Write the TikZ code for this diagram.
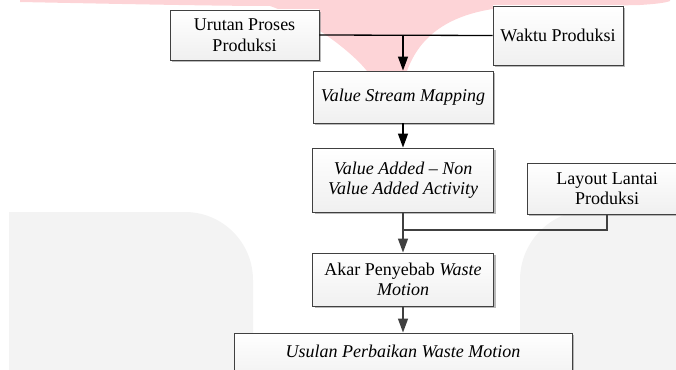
\documentclass[tikz,border=0pt]{standalone}
\usepackage{fontspec}
\setmainfont{Liberation Serif}
\usetikzlibrary{arrows.meta,shadows}
\definecolor{wmpink}{RGB}{253,212,215}
\definecolor{wmgray}{RGB}{243,243,243}
\definecolor{edge}{RGB}{64,64,64}
\begin{document}
\begin{tikzpicture}[x=1pt,y=-1pt,
  font=\fontsize{18pt}{20.5pt}\selectfont,
  box/.style={draw=edge, line width=0.9pt, top color=white, bottom color=black!6,
    drop shadow={shadow xshift=2pt, shadow yshift=-2pt, fill=black!45, opacity=0.6},
    align=center, inner sep=0pt, anchor=center},
  conn/.style={line width=1.3pt, draw=edge},
  connk/.style={line width=1.3pt, draw=black},
  tip/.style={-{Triangle[length=14pt,width=10pt]}}
]
\useasboundingbox (0,0) rectangle (676,369);
% watermark
\fill[wmgray] (9,380) -- (9,212) [rounded corners=68pt] -- (253,212) [sharp corners] -- (253,380) -- cycle;
\fill[wmgray] (690,380) -- (690,210) [rounded corners=70pt] -- (520,210) [sharp corners] -- (520,380) -- cycle;
\fill[wmpink] (20,0) -- (20,2) .. controls (120,4) and (220,6) .. (270,6)
  .. controls (310,20) and (350,50) .. (367,71) -- (407,71)
  .. controls (420,35) and (450,14) .. (500,8) -- (640,5)
  .. controls (655,4) and (665,3) .. (670,1) -- (670,0) -- cycle;
% boxes
\node[box, minimum width=149pt, minimum height=50pt] (u) at (244.5,35) {Urutan Proses\\Produksi};
\node[box, minimum width=130pt, minimum height=59pt] (w) at (558,35.5) {Waktu Produksi};
\node[box, minimum width=180pt, minimum height=52pt] (vsm) at (403,97) {\textit{Value Stream Mapping}};
\node[box, minimum width=181pt, minimum height=64pt] (va) at (403,180) {\textit{Value Added – Non}\\\textit{Value Added Activity}};
\node[box, minimum width=160pt, minimum height=51pt] (l) at (607,188.5) {Layout Lantai\\Produksi};
\node[box, minimum width=181pt, minimum height=53pt] (a) at (403,279.5) {Akar Penyebab \textit{Waste}\\\textit{Motion}};
\node[box, minimum width=338pt, minimum height=50pt, text depth=14pt] (us) at (403,358) {\textit{Usulan Perbaikan Waste Motion}};
% connectors
\coordinate (j1) at (403,35);
\coordinate (j2) at (403,230);
\draw[connk] (u.east) -- (w.west);
\draw[connk, tip] (j1) -- (vsm.north);
\draw[connk, tip] (vsm.south) -- (va.north);
\draw[conn, tip] (va.south) -- (a.north);
\draw[conn] (l.south) |- (j2);
\draw[conn, tip] (a.south) -- (us.north);
\end{tikzpicture}
\end{document}
